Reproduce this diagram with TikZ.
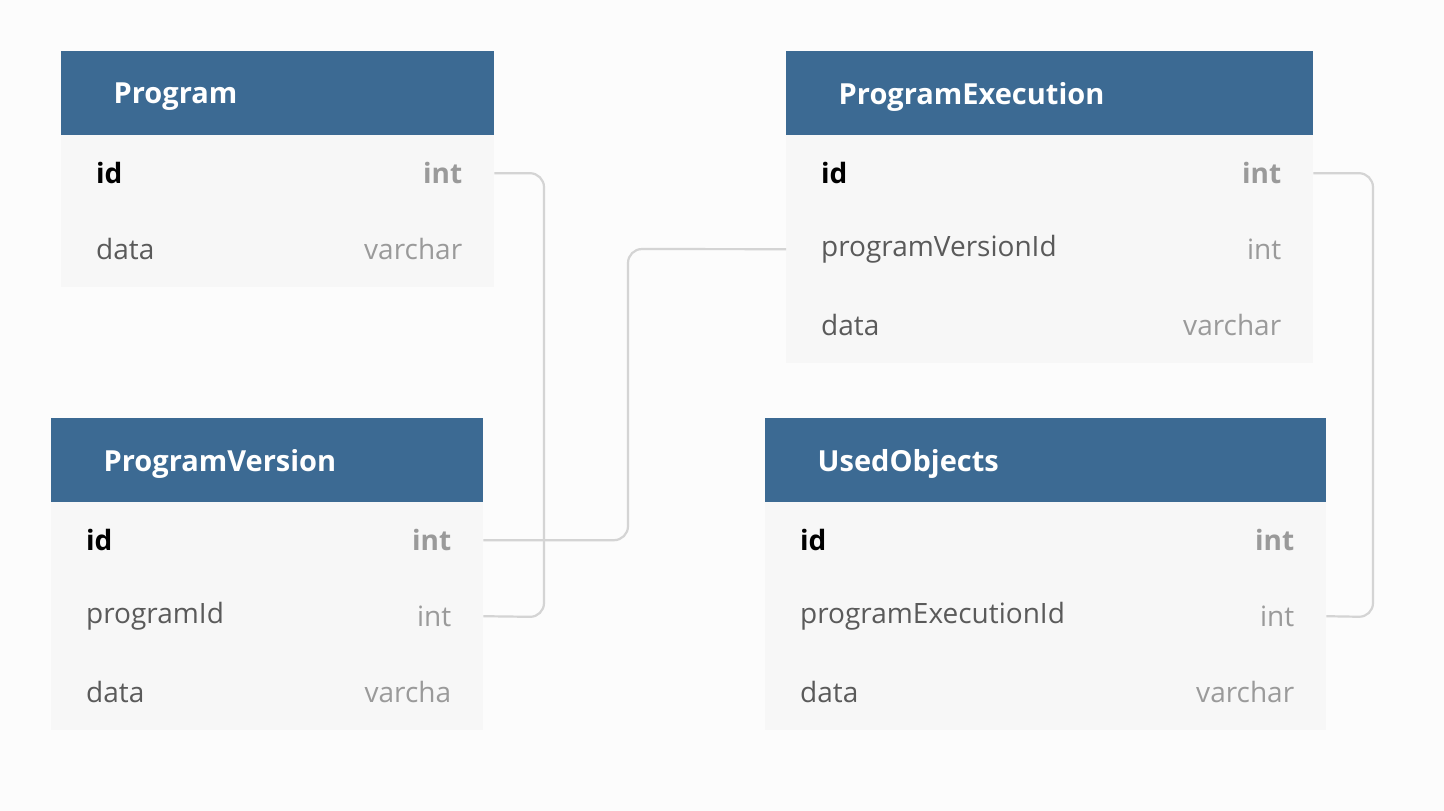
\documentclass[tikz,border=0pt]{standalone}
\usepackage{fontspec}
\setmainfont{Open Sans}
\usetikzlibrary{positioning}
\definecolor{headblue}{HTML}{3C6A93}
\definecolor{rowbg}{HTML}{F7F7F7}
\definecolor{pagebg}{HTML}{FCFCFC}
\definecolor{fieldgray}{HTML}{5A5A5A}
\definecolor{typegray}{HTML}{9A9A9A}
\definecolor{linkgray}{HTML}{D4D4D4}
\begin{document}
\begin{tikzpicture}[x=1pt,y=-1pt,
  head/.style={fill=headblue,text=white,font=\fontsize{29}{34}\selectfont\bfseries,
    anchor=north west,minimum height=84pt,inner sep=0pt,text depth=0pt},
  row/.style={fill=rowbg,anchor=north west,minimum height=76pt,inner sep=0pt},
  fname/.style={anchor=west,text=fieldgray,font=\fontsize{28}{32}\selectfont,inner sep=0pt},
  fkey/.style={fname,text=black,font=\fontsize{28}{32}\selectfont\bfseries},
  ftype/.style={anchor=east,text=typegray,font=\fontsize{28}{32}\selectfont,inner sep=0pt},
  fktype/.style={ftype,font=\fontsize{28}{32}\selectfont\bfseries},
  link/.style={draw=linkgray,line width=2.2pt,rounded corners=14pt}]
\fill[pagebg] (0,0) rectangle (1444,811);
\useasboundingbox (0,0) rectangle (1444,811);
% table: x, y, width, name, rows
\newcommand{\ertable}[5]{%
  \node[head,minimum width=#3pt,text width=#3pt-35pt,align=left,inner xsep=0pt] (#4) at (#1,#2) {\hspace*{35pt}#4\hfill};
  \foreach \fld/\typ [count=\i] in {#5} {
    \node[row,minimum width=#3pt] (#4-\i) at (#1,#2+84+76*\i-76) {};
    \ifnum\i=1
      \node[fkey] at ([xshift=35pt]#4-\i.west) {\fld};
      \node[fktype] at ([xshift=-32pt]#4-\i.east) {\typ};
    \else
      \node[fname] at ([xshift=35pt]#4-\i.west) {\fld};
      \node[ftype] at ([xshift=-32pt]#4-\i.east) {\typ};
    \fi
  }}
\ertable{61}{51}{433}{Program}{id/int,data/varchar}
\ertable{786}{51}{527}{ProgramExecution}{id/int,programVersionId/int,data/varchar}
\ertable{51}{418}{432}{ProgramVersion}{id/int,programId/int,data/varcha}
\ertable{765}{418}{561}{UsedObjects}{id/int,programExecutionId/int,data/varchar}
%links
\draw[link] (Program-1.east) -| (544,617) -- (ProgramVersion-2.east);
\draw[link] (ProgramVersion-1.east) -| (628,249) -- (ProgramExecution-2.west);
\draw[link] (ProgramExecution-1.east) -| (1373,617) -- (UsedObjects-2.east);
\end{tikzpicture}
\end{document}
